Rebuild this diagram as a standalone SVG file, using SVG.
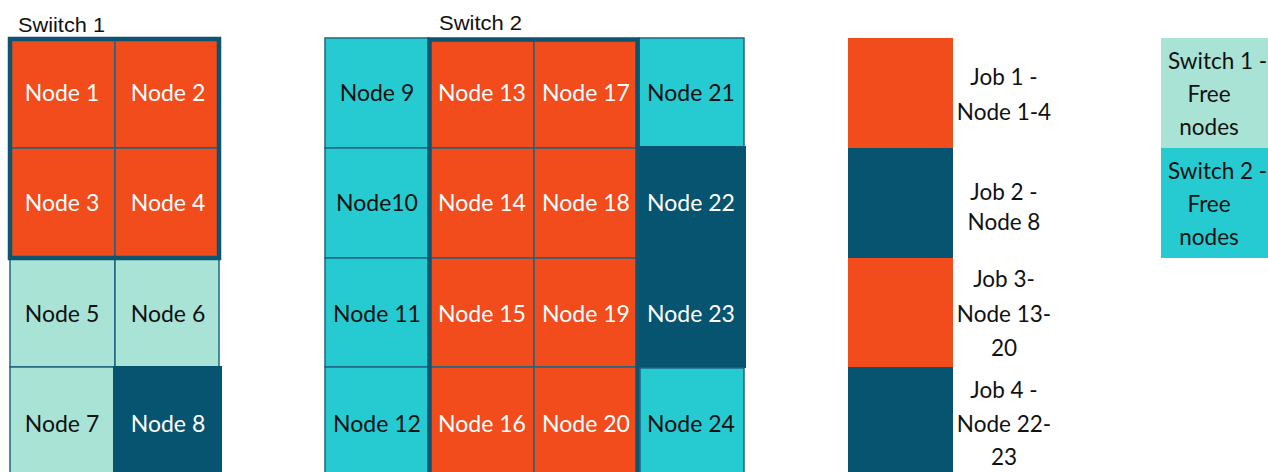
<svg xmlns="http://www.w3.org/2000/svg" width="1268" height="472" viewBox="0 0 1268 472">
<style>
.or{fill:#F24B1C}
.db{fill:#06546F}
.lt{fill:#A8E3D6}
.cy{fill:#26CBD2}
.thin{stroke:#1F6583;stroke-width:1.5}
.thick{fill:none;stroke:#0D5470;stroke-width:4.5}
.t{font-family:Lato,"Open Sans",sans-serif;font-size:23px;text-anchor:middle}
.w{fill:#ffffff}
.k{fill:#111111}
.hd{font-family:"Liberation Sans",Arial,sans-serif;font-size:20px;fill:#111111}
.lg{font-family:Lato,"Open Sans",sans-serif;font-size:22.5px;text-anchor:middle;fill:#111111}
</style>
<rect width="1268" height="472" fill="#ffffff"/>
<text class="hd" x="18" y="32" textLength="87" lengthAdjust="spacingAndGlyphs">Swiitch 1</text>
<text class="hd" x="439" y="30" textLength="83" lengthAdjust="spacingAndGlyphs">Switch 2</text>

<!-- Switch 1 -->
<g id="node1"><rect class="or thin" x="10" y="39" width="105" height="109"/><text class="t w" x="62" y="101">Node 1</text></g>
<g id="node2"><rect class="or thin" x="115" y="39" width="104" height="109"/><text class="t w" x="168" y="101">Node 2</text></g>
<g id="node3"><rect class="or thin" x="10" y="148" width="105" height="110"/><text class="t w" x="62" y="211">Node 3</text></g>
<g id="node4"><rect class="or thin" x="115" y="148" width="104" height="110"/><text class="t w" x="168" y="211">Node 4</text></g>
<g id="node5"><rect class="lt thin" x="10" y="258" width="105" height="109"/><text class="t k" x="62" y="322">Node 5</text></g>
<g id="node6"><rect class="lt thin" x="115" y="258" width="104" height="109"/><text class="t k" x="168" y="322">Node 6</text></g>
<g id="node7"><rect class="lt thin" x="10" y="367" width="105" height="110"/><text class="t k" x="62" y="432">Node 7</text></g>
<g id="node8"><rect class="db" x="113" y="366" width="109" height="110"/><text class="t w" x="168" y="432">Node 8</text></g>
<g id="job1-outline"><rect class="thick" x="10" y="39" width="209" height="219"/></g>

<!-- Switch 2 column 1 -->
<g id="node9"><rect class="cy thin" x="325" y="38" width="104" height="110"/><text class="t k" x="377" y="101">Node 9</text></g>
<g id="node10"><rect class="cy thin" x="325" y="148" width="104" height="110"/><text class="t k" x="377" y="211">Node10</text></g>
<g id="node11"><rect class="cy thin" x="325" y="258" width="104" height="109"/><text class="t k" x="377" y="322">Node 11</text></g>
<g id="node12"><rect class="cy thin" x="325" y="367" width="104" height="110"/><text class="t k" x="377" y="432">Node 12</text></g>
<!-- column 2 -->
<g id="node13"><rect class="or thin" x="429" y="39" width="105" height="109"/><text class="t w" x="482" y="101">Node 13</text></g>
<g id="node14"><rect class="or thin" x="429" y="148" width="105" height="110"/><text class="t w" x="482" y="211">Node 14</text></g>
<g id="node15"><rect class="or thin" x="429" y="258" width="105" height="109"/><text class="t w" x="482" y="322">Node 15</text></g>
<g id="node16"><rect class="or thin" x="429" y="367" width="105" height="110"/><text class="t w" x="482" y="432">Node 16</text></g>
<!-- column 3 -->
<g id="node17"><rect class="or thin" x="534" y="39" width="104" height="109"/><text class="t w" x="586" y="101">Node 17</text></g>
<g id="node18"><rect class="or thin" x="534" y="148" width="104" height="110"/><text class="t w" x="586" y="211">Node 18</text></g>
<g id="node19"><rect class="or thin" x="534" y="258" width="104" height="109"/><text class="t w" x="586" y="322">Node 19</text></g>
<g id="node20"><rect class="or thin" x="534" y="367" width="104" height="110"/><text class="t w" x="586" y="432">Node 20</text></g>
<!-- column 4 -->
<g id="node21"><rect class="cy thin" x="639" y="38" width="105" height="110"/><text class="t k" x="691" y="101">Node 21</text></g>
<g id="node22-23"><rect class="db" x="637" y="146" width="109" height="222"/><text class="t w" x="691" y="211">Node 22</text><text class="t w" x="691" y="322">Node 23</text></g>
<g id="node24"><rect class="cy thin" x="640" y="368" width="104" height="109"/><text class="t k" x="691" y="432">Node 24</text></g>
<g id="job3-outline"><path class="thick" d="M429.5,480 V39.5 H637.5 V480"/></g>

<!-- Legend -->
<g id="legend-job1"><rect class="or" x="848" y="38" width="105" height="110"/><text class="lg" x="1004" y="85">Job 1 -</text><text class="lg" x="1004" y="120">Node 1-4</text></g>
<g id="legend-job2"><rect class="db" x="848" y="148" width="105" height="110"/><text class="lg" x="1004" y="200">Job 2 -</text><text class="lg" x="1004" y="230">Node 8</text></g>
<g id="legend-job3"><rect class="or" x="848" y="258" width="105" height="109"/><text class="lg" x="1004" y="287">Job 3-</text><text class="lg" x="1004" y="322">Node 13-</text><text class="lg" x="1004" y="356">20</text></g>
<g id="legend-job4"><rect class="db" x="848" y="367" width="105" height="110"/><text class="lg" x="1004" y="398">Job 4 -</text><text class="lg" x="1004" y="432">Node 22-</text><text class="lg" x="1004" y="465">23</text></g>
<g id="legend-sw1"><rect class="lt" x="1161" y="38" width="107" height="110"/><text class="lg" x="1168" y="69" style="text-anchor:start">Switch 1 -</text><text class="lg" x="1209" y="102">Free</text><text class="lg" x="1209" y="135">nodes</text></g>
<g id="legend-sw2"><rect class="cy" x="1161" y="148" width="107" height="110"/><text class="lg" x="1168" y="179" style="text-anchor:start">Switch 2 -</text><text class="lg" x="1209" y="212">Free</text><text class="lg" x="1209" y="245">nodes</text></g>
<g id="connectors"></g>
</svg>
